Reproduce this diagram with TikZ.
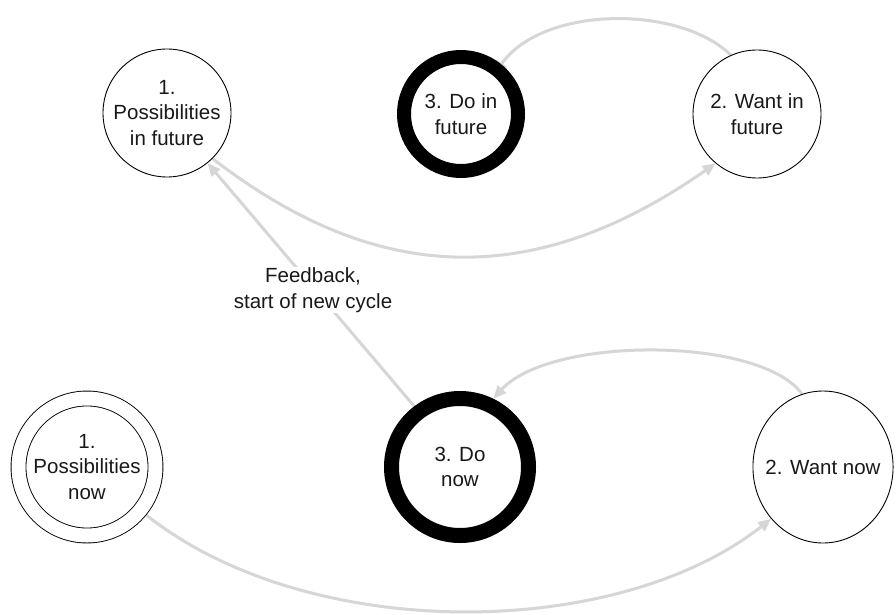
\documentclass[tikz,border=0pt]{standalone}
\usepackage{fontspec}
\setmainfont{Liberation Sans}
\usetikzlibrary{arrows.meta,shapes.geometric,backgrounds}

\begin{document}
\begin{tikzpicture}[x=1pt,y=-1pt,
  lbl/.style={font=\fontsize{20.5}{25.5}\selectfont, align=center, text=black!90},
  plain/.style={lbl, circle, draw, line width=0.9pt, fill=white, inner sep=0pt, minimum size=128pt},
  doring/.style={lbl, circle, draw, fill=white, inner sep=0pt},
  flow/.style={draw=black!16, line width=3pt, -{Triangle[length=13pt,width=11pt,fill=black!16]}},
]
\useasboundingbox (0,0) rectangle (896,615);

% upper cycle: future
\node[plain] (p1f) at (167,113) {1.\\Possibilities\\in future};
\node[doring, line width=14pt, minimum size=114pt] (d3f) at (461,114) {3. Do in\\future};
\node[plain] (w2f) at (757,114) {2. Want in\\future};

% lower cycle: now
\node[lbl, circle, draw, line width=0.9pt, double, double distance=14pt,
      fill=white, inner sep=0pt, minimum size=137pt] (p1n) at (87,467) {1.\\Possibilities\\now};
\node[doring, line width=15pt, minimum size=137pt] (d3n) at (460,467) {3. Do\\now};
\node[lbl, ellipse, draw, line width=0.9pt, fill=white, inner xsep=-8pt, inner ysep=0pt,
      minimum width=140pt, minimum height=152pt] (w2n) at (823,467) {2. Want now};

% feedback label
\node[lbl, fill=white, inner sep=1pt] (fb) at (313,290) {Feedback,\\start of new cycle};

\begin{scope}[on background layer]
  \fill[white] (0,0) rectangle (896,615);
  % future cycle
  \draw[flow] (p1f.-45) .. controls (380,288) and (537,288) .. (w2f.230);
  \draw[flow, shorten >=-12pt] (w2f.114) .. controls (680,5) and (543,5) .. (d3f.51);
  % now cycle
  \draw[flow] (p1n.-39) .. controls (300,643) and (613,643) .. (w2n.225);
  \draw[flow] (w2n.106) .. controls (760,336) and (550,336) .. (d3n.64);
  % feedback into the next cycle
  \draw[flow] (d3n.127) -- (p1f.-51);
\end{scope}
\end{tikzpicture}
\end{document}
